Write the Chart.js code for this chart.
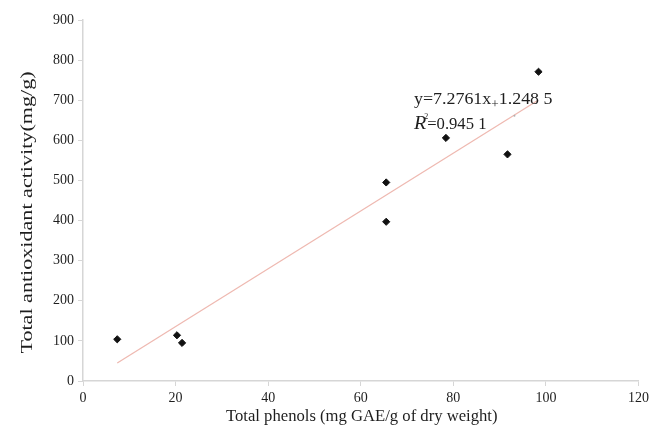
<!DOCTYPE html>
<html>
<head>
<meta charset="utf-8">
<script src="https://cdn.jsdelivr.net/npm/chart.js@4"></script>
<style>
  html, body { margin: 0; padding: 0; background: #fff; }
  #wrap { width: 653px; height: 425px; }
</style>
</head>
<body>
<div id="wrap"><canvas id="chart"></canvas></div>
<script>
const phenols = [7.4, 20.3, 21.4, 65.5, 65.5, 78.4, 91.7, 98.4];
const antioxidant = [104, 114, 95, 495, 397, 606, 565, 771];
const trendX = [7.4, 98.3];
const trendY = [45, 700];
const strayX = [93.2];
const strayY = [661];
const xTicks = [0, 20, 40, 60, 80, 100, 120];
const yTicks = [0, 100, 200, 300, 400, 500, 600, 700, 800, 900];
const xTitle = 'Total phenols (mg GAE/g of dry weight)';
const yTitle = 'Total antioxidant activity(mg/g)';

const serif = '"Liberation Serif", "DejaVu Serif", serif';
const axisGrey = '#d6d6d6';
const ink = '#1e1e1e';

// stretched text helper: the original uses a wide serif face
function wideText(ctx, text, x, y, stretch) {
    ctx.save();
    ctx.translate(x, y);
    ctx.scale(stretch, 1);
    ctx.fillText(text, 0, 0);
    const w = ctx.measureText(text).width * stretch;
    ctx.restore();
    return w;
}

const labels = {
    id: 'labels',
    afterDatasetsDraw(chart) {
        const {ctx, chartArea, scales: {x, y}} = chart;
        ctx.save();
        ctx.fillStyle = ink;
        ctx.textBaseline = 'alphabetic';

        // equation, anchored in data units
        const left = x.getPixelForValue(71.5);
        const base1 = y.getPixelForValue(690);
        const base2 = y.getPixelForValue(628);
        ctx.textAlign = 'left';
        let cx = left;
        ctx.font = '16px ' + serif;
        cx += wideText(ctx, 'y=7.2761x', cx, base1, 1.12);
        ctx.font = '12px ' + serif;
        cx += wideText(ctx, '+', cx, base1 + 4, 1.1);
        ctx.font = '16px ' + serif;
        wideText(ctx, '1.248 5', cx, base1, 1.12);

        cx = left;
        ctx.font = 'italic 19px ' + serif;
        cx += wideText(ctx, 'R', cx, base2, 1.05);
        ctx.font = '8px ' + serif;
        wideText(ctx, '2', cx - 2, base2 - 10, 1);
        ctx.font = '16px ' + serif;
        wideText(ctx, '=0.945 1', cx + 1, base2, 1.04);

        // axis titles
        ctx.textAlign = 'center';
        ctx.font = '16px ' + serif;
        ctx.save();
        ctx.translate((chartArea.left + chartArea.right) / 2 + 1, 421);
        ctx.scale(1.04, 1);
        ctx.fillText(xTitle, 0, 0);
        ctx.restore();

        ctx.font = '16.5px ' + serif;
        ctx.save();
        ctx.translate(32, (chartArea.top + chartArea.bottom) / 2 + 12);
        ctx.rotate(-Math.PI / 2);
        ctx.scale(1.34, 1);
        ctx.fillText(yTitle, 0, 0);
        ctx.restore();

        ctx.restore();
    }
};

new Chart(document.getElementById('chart'), {
    type: 'scatter',
    data: {
        datasets: [
            {
                label: 'samples',
                data: phenols.map((p, i) => ({x: p, y: antioxidant[i]})),
                pointStyle: 'rectRot',
                pointRadius: 3.6,
                backgroundColor: '#111',
                borderColor: '#111',
                borderWidth: 1,
                order: 1
            },
            {
                label: 'stray',
                data: strayX.map((p, i) => ({x: p, y: strayY[i]})),
                pointRadius: 1,
                backgroundColor: '#b0b0b0',
                borderWidth: 0,
                order: 1
            },
            {
                label: 'trend',
                type: 'line',
                data: trendX.map((p, i) => ({x: p, y: trendY[i]})),
                borderColor: 'rgba(232, 160, 150, 0.75)',
                borderWidth: 1.2,
                pointRadius: 0,
                fill: false,
                order: 2
            }
        ]
    },
    options: {
        responsive: true,
        maintainAspectRatio: false,
        animation: false,
        layout: {padding: {top: 20, right: 12}},
        plugins: {legend: {display: false}, tooltip: {enabled: false}},
        scales: {
            x: {
                type: 'linear',
                min: 0,
                max: 120,
                afterBuildTicks: s => { s.ticks = xTicks.map(v => ({value: v})); },
                afterFit: s => { s.height = 44; },
                border: {color: axisGrey, width: 1.5},
                grid: {drawOnChartArea: false, drawTicks: true, tickLength: 5, color: axisGrey},
                ticks: {color: ink, padding: 4, font: {family: serif, size: 14}}
            },
            y: {
                type: 'linear',
                min: 0,
                max: 900,
                afterBuildTicks: s => { s.ticks = yTicks.map(v => ({value: v})); },
                afterFit: s => { s.width = 83; },
                border: {color: axisGrey, width: 1.5},
                grid: {drawOnChartArea: false, drawTicks: true, tickLength: 5, color: axisGrey},
                ticks: {color: ink, padding: 4, font: {family: serif, size: 14}}
            }
        }
    },
    plugins: [labels]
});
</script>
</body>
</html>
